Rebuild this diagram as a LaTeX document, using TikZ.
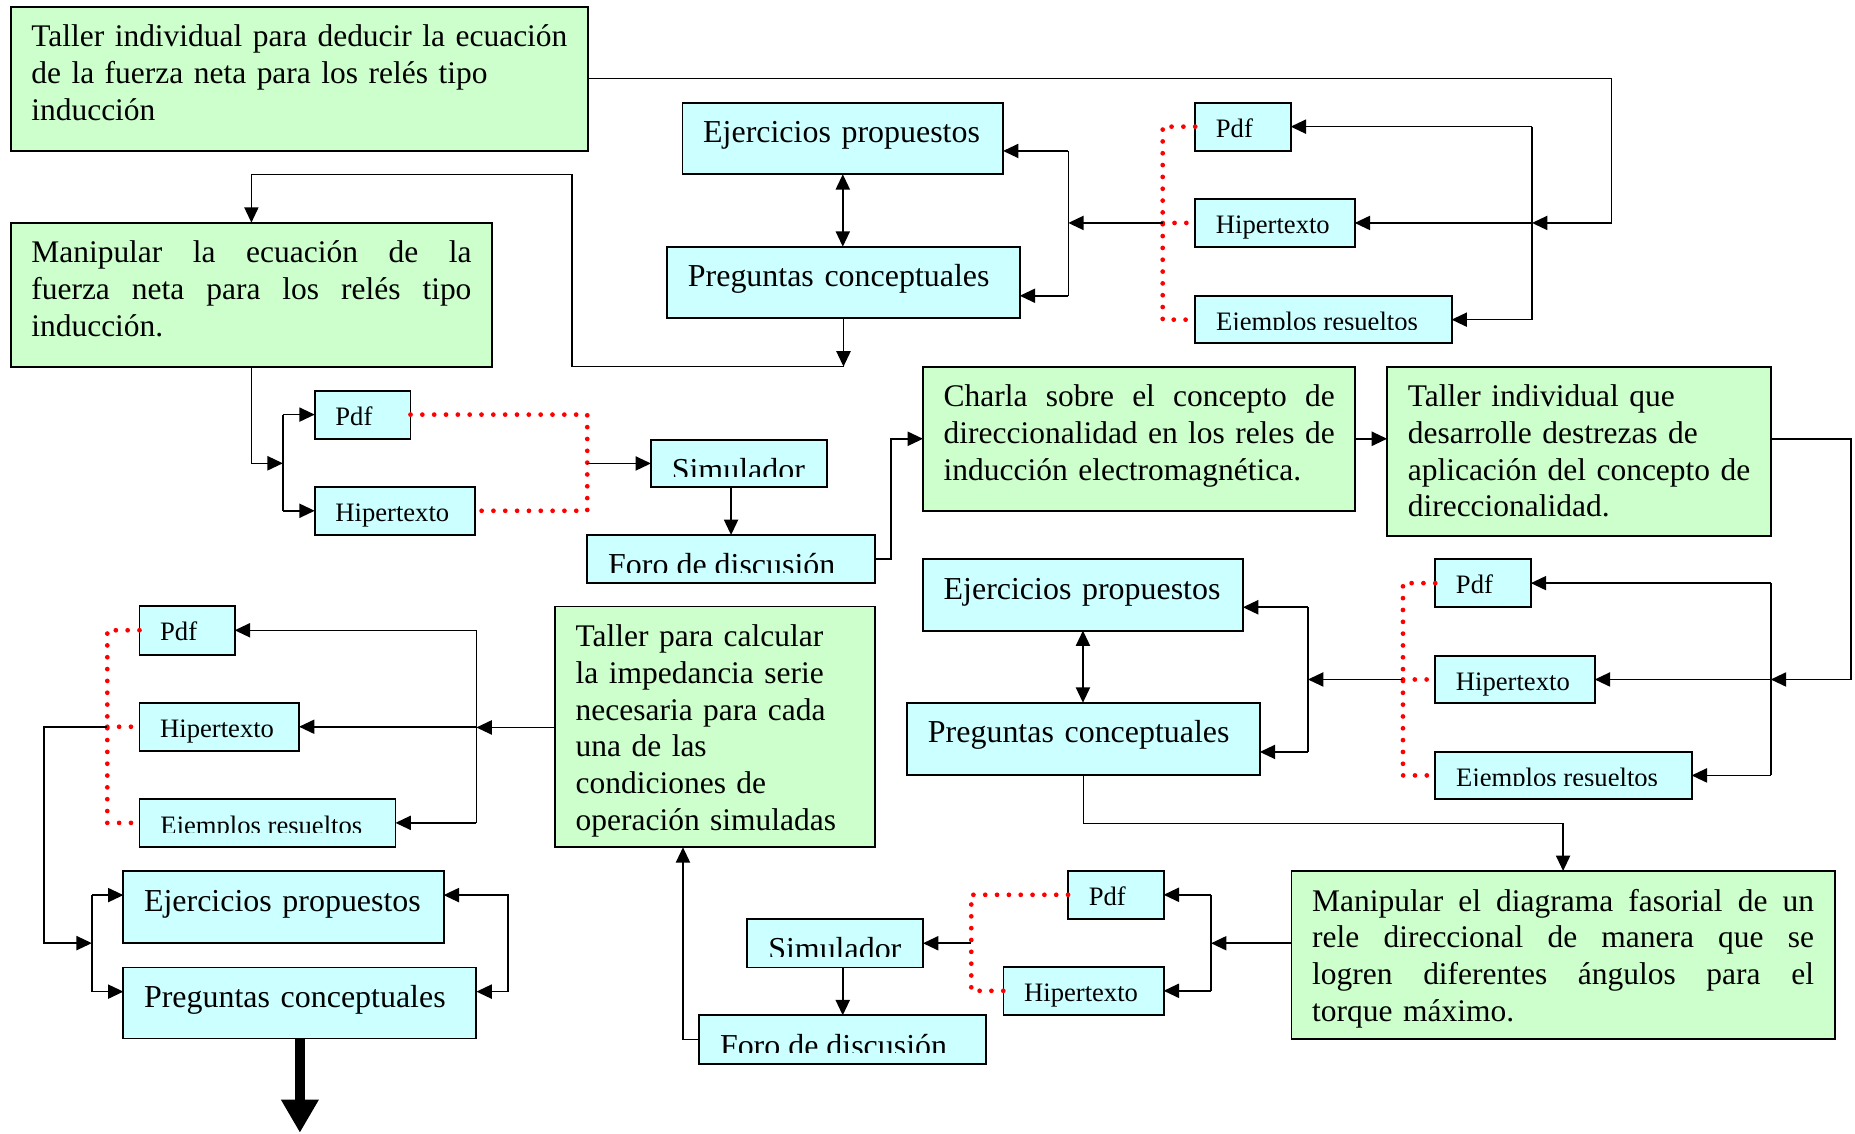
\documentclass[tikz,border=0pt]{standalone}
\usepackage{fontspec}
\setmainfont{Liberation Serif}
\usetikzlibrary{arrows.meta,calc}
\definecolor{gfill}{HTML}{CCFFCC}
\definecolor{cfill}{HTML}{CCFFFF}
\newcommand\myrl[1]{\mbox{#1}}
\newcommand\myjl[1]{\leavevmode\hbox to \hsize{\spaceskip=0.25em plus 1fill\relax #1}}
\newcommand\bigf{\fontsize{27}{31}\selectfont}
\newcommand\greenf{\fontsize{26.6}{31}\selectfont}
\newcommand\smallf{\fontsize{22.5}{26}\selectfont}
% clipped text inside a box: box, name, text, baseline, clip depth, font
\newcommand\cuttext[6]{%
  \begin{scope}
    \clip (#1.north west) rectangle ($(#1.north east)+(0,#5)$);
    \node[anchor=base west, inner sep=0pt, font=#6] (#2) at ($(#1.north west)+(17.5,#4)$) {#3};
  \end{scope}}
\tikzset{
  box/.style={draw, line width=1.6pt, outer sep=0pt, inner ysep=0pt, inner xsep=17.5pt, anchor=north west, align=left},
  gbox/.style={box, fill=gfill, font=\greenf, text height=34pt},
  cbig/.style={box, fill=cfill, font=\bigf, text height=34pt},
  csmall/.style={box, fill=cfill, font=\smallf, text height=29.5pt},
  cutbox/.style={draw, line width=1.6pt, outer sep=0pt, inner sep=0pt, anchor=north west, fill=cfill},
  conn/.style={line width=1.3pt, black},
  arr/.style={conn, -{Triangle[length=13pt,width=12pt]}},
  dbl/.style={conn, {Triangle[length=13pt,width=12pt]}-{Triangle[length=13pt,width=12pt]}},
  dots/.style={red, line width=4pt, line cap=round, dash pattern=on 0pt off 10pt},
  bigarr/.style={line width=8pt, -{Triangle[length=28pt,width=30pt]}}
}
\begin{document}
\begin{tikzpicture}[x=1pt,y=-1pt]
\useasboundingbox (0,0) rectangle (1568,958);
\hyphenpenalty=10000

% ---------- top region ----------
\node[gbox, text width=453pt, text depth=87.8pt] (A) at (9,5.6)
  {\myrl{Taller individual para deducir la ecuación}\\\myrl{de la fuerza neta para los relés tipo}\\\myrl{inducción}};
\node[gbox, text width=372pt, text depth=87.7pt] (B) at (9,188.2)
  {\myjl{Manipular la ecuación de la}\\\myjl{fuerza neta para los relés tipo}\\\myrl{inducción.}};
\node[cbig, text width=236pt, text depth=26.5pt] (C) at (576.9,86.8) {Ejercicios propuestos};
\node[cbig, text width=263pt, text depth=26.5pt] (D) at (564,208.5) {Preguntas conceptuales};
\node[csmall, text width=45.7pt, text depth=11pt] (E) at (1010.3,86.8) {Pdf};
\node[csmall, text width=99.8pt, text depth=11pt] (F) at (1010.3,168.2) {Hipertexto};
\node[cutbox, minimum width=216.7pt, minimum height=40pt] (G) at (1010.3,250.2) {};
\cuttext{G}{Gt}{Ejemplos resueltos}{29.5}{28.3}{\smallf}

\node[csmall, text width=46pt, text depth=11pt] (H) at (266,330.2) {Pdf};
\node[csmall, text width=100.8pt, text depth=11.4pt] (I) at (266,411.3) {Hipertexto};
\node[cutbox, minimum width=148.6pt, minimum height=39.5pt] (J) at (550.2,372) {};
\cuttext{J}{Jt}{Simulador}{34}{31}{\bigf}
\node[cutbox, minimum width=243.1pt, minimum height=40.8pt] (K) at (496.4,452.2) {};
\cuttext{K}{Kt}{Foro de discusión}{34.5}{32}{\bigf}

\node[gbox, text width=330.5pt, text depth=88pt] (L) at (780.2,309.9)
  {\myjl{Charla sobre el concepto de}\\\myjl{direccionalidad en los reles de}\\\myrl{inducción electromagnética.}};
\node[gbox, text width=289.3pt, text depth=108.9pt] (M) at (1172.5,309.9)
  {\myrl{Taller individual que}\\\myrl{desarrolle destrezas de}\\\myrl{aplicación del concepto de}\\\myrl{direccionalidad.}};

\node[cbig, text width=235.4pt, text depth=26.5pt] (N) at (780.2,472.5) {Ejercicios propuestos};
\node[cbig, text width=263pt, text depth=27pt] (O) at (766.9,594) {Preguntas conceptuales};
\node[csmall, text width=45.8pt, text depth=11.3pt] (P) at (1213.2,472.5) {Pdf};
\node[csmall, text width=99.8pt, text depth=10.8pt] (Q) at (1213.2,554.2) {Hipertexto};
\node[cutbox, minimum width=216.7pt, minimum height=40.3pt] (R) at (1213.2,635.3) {};
\cuttext{R}{Rt}{Ejemplos resueltos}{29.5}{28.3}{\smallf}

\node[gbox, text width=424.1pt, text depth=108.3pt] (S) at (1091.7,736.2)
  {\myjl{Manipular el diagrama fasorial de un}\\\myjl{rele direccional de manera que se}\\\myjl{logren diferentes ángulos para el}\\\myrl{torque máximo.}};
\node[csmall, text width=45.8pt, text depth=10.8pt] (T) at (902.8,736.2) {Pdf};
\node[csmall, text width=100.4pt, text depth=11.3pt] (U) at (848.2,817.1) {Hipertexto};
\node[cutbox, minimum width=148.5pt, minimum height=41pt] (V) at (631.7,776.8) {};
\cuttext{V}{Vt}{Simulador}{34}{32}{\bigf}
\node[cutbox, minimum width=242.9pt, minimum height=40.9pt] (W) at (590.9,858.2) {};
\cuttext{W}{Wt}{Foro de discusión}{34.5}{31.5}{\bigf}

\node[gbox, text width=235.3pt, text depth=169.5pt] (X) at (469.1,512.7)
  {\myrl{Taller para calcular}\\\myrl{la impedancia serie}\\\myrl{necesaria para cada}\\\myrl{una de las}\\\myrl{condiciones de}\\\myrl{operación simuladas}};
\node[csmall, text width=45.5pt, text depth=11.8pt] (Y) at (117.9,512.1) {Pdf};
\node[csmall, text width=99.9pt, text depth=10.9pt] (Z) at (117.9,594.1) {Hipertexto};
\node[cutbox, minimum width=216.4pt, minimum height=40.1pt] (AA) at (117.9,675.5) {};
\cuttext{AA}{AAt}{Ejemplos resueltos}{29.5}{28.5}{\smallf}
\node[cbig, text width=235.7pt, text depth=26.8pt] (BB) at (104.3,736.4) {Ejercicios propuestos};
\node[cbig, text width=263.4pt, text depth=26pt] (CC) at (104.3,817.8) {Preguntas conceptuales};

% ---------- helper coordinates ----------
\coordinate (xR1) at (1362,0);
\coordinate (busA) at (1295,0);
\coordinate (dA) at (982.8,0);
\coordinate (busB) at (903,0);
\coordinate (Cin) at ($(C.north east)+(0,40.8)$);
\coordinate (Din) at ($(D.north east)+(0,41.5)$);
\coordinate (j1) at (713,309.9);
\coordinate (t1) at (483.4,147.6);
\coordinate (busH) at (239.1,391.6);
\coordinate (dB) at (496.4,0);
\coordinate (xR2) at (1564.8,0);
\coordinate (busC) at (1496.8,0);
\coordinate (dC) at (1185.9,0);
\coordinate (busD) at (1105.6,0);
\coordinate (Nin) at ($(N.north east)+(0,40.8)$);
\coordinate (Oin) at ($(O.north east)+(0,41.6)$);
\coordinate (Sout) at ($(S.north west)+(0,61.1)$);
\coordinate (busE) at (1023.7,0);
\coordinate (dE) at (821,0);
\coordinate (Xin) at ($(X.south west)+(108.2,0)$);
\coordinate (Xout) at ($(X.north west)+(0,102.2)$);
\coordinate (busF) at (402.7,0);
\coordinate (dF) at (90.7,0);
\coordinate (xL) at (37.4,0);
\coordinate (gl) at (77.6,797.2);
\coordinate (busG) at (77.6,0);
\coordinate (BBin) at ($(BB.north west)+(0,20.2)$);
\coordinate (CCin) at ($(CC.north west)+(0,20.4)$);
\coordinate (BBr) at ($(BB.north east)+(0,20.2)$);
\coordinate (CCr) at ($(CC.north east)+(0,20.4)$);
\coordinate (rb) at (429.4,0);
\coordinate (tip) at (253.5,957.5);

% ---------- connectors: top right group ----------
\draw[arr] (A.east) -| (xR1 |- F.east) -- (busA |- F.east);
\draw[conn] (busA |- E.east) -- (busA |- G.east);
\draw[arr] (busA |- E.east) -- (E.east);
\draw[arr] (busA |- F.east) -- (F.east);
\draw[arr] (busA |- G.east) -- (G.east);
\draw[dots] (E.west) -- (dA |- E.west) -- (dA |- G.west) -- (G.west);
\draw[dots] (dA |- F.west) -- (F.west);
\draw[arr] (dA |- F.west) -- (busB |- F.west);
\draw[conn] (busB |- Cin) -- (busB |- Din);
\draw[arr] (busB |- Cin) -- (Cin);
\draw[arr] (busB |- Din) -- (Din);
\draw[dbl] (C.south) -- (C.south |- D.north);
\draw[arr] (D.south) -- (j1);
\draw[arr] (j1) -| (t1) -| (B.north);

% ---------- middle left group ----------
\draw[arr] (B.south) |- (busH);
\draw[conn] (busH |- H.west) -- (busH |- I.west);
\draw[arr] (busH |- H.west) -- (H.west);
\draw[arr] (busH |- I.west) -- (I.west);
\draw[dots] (H.east) -- (dB |- H.east) -- (dB |- I.east) -- (I.east);
\draw[arr] (dB |- J.west) -- (J.west);
\draw[arr] (J.south -| K.north) -- (K.north);
\draw[arr] (K.east) -- ++(13.8,0) |- (L.west);
\draw[arr] (L.east) -- (L.east -| M.west);

% ---------- middle right group ----------
\draw[arr] (M.east |- L.east) -| (xR2 |- Q.east) -- (busC |- Q.east);
\draw[conn] (busC |- P.east) -- (busC |- R.east);
\draw[arr] (busC |- P.east) -- (P.east);
\draw[arr] (busC |- Q.east) -- (Q.east);
\draw[arr] (busC |- R.east) -- (R.east);
\draw[dots] (P.west) -- (dC |- P.west) -- (dC |- R.west) -- (R.west);
\draw[dots] (dC |- Q.west) -- (Q.west);
\draw[arr] (dC |- Q.west) -- (busD |- Q.west);
\draw[conn] (busD |- Nin) -- (busD |- Oin);
\draw[arr] (busD |- Nin) -- (Nin);
\draw[arr] (busD |- Oin) -- (Oin);
\draw[dbl] (N.south) -- (N.south |- O.north);
\draw[arr] (O.south) -- ++(0,40.9) -| (S.north);

% ---------- bottom right group ----------
\draw[arr] (Sout) -- (busE |- Sout);
\draw[conn] (busE |- T.east) -- (busE |- U.east);
\draw[arr] (busE |- T.east) -- (T.east);
\draw[arr] (busE |- U.east) -- (U.east);
\draw[dots] (T.west) -- (dE |- T.west) -- (dE |- U.west) -- (U.west);
\draw[arr] (dE |- V.east) -- (V.east);
\draw[arr] (V.south -| W.north) -- (W.north);
\draw[arr] (W.west) -| (Xin);

% ---------- bottom left group ----------
\draw[arr] (Xout) -- (busF |- Xout);
\draw[conn] (busF |- Y.east) -- (busF |- AA.east);
\draw[arr] (busF |- Y.east) -- (Y.east);
\draw[arr] (busF |- Z.east) -- (Z.east);
\draw[arr] (busF |- AA.east) -- (AA.east);
\draw[dots] (Y.west) -- (dF |- Y.west) -- (dF |- AA.west) -- (AA.west);
\draw[dots] (dF |- Z.west) -- (Z.west);
\draw[arr] (dF |- Z.west) -| (xL |- gl) -- (gl);
\draw[conn] (busG |- BBin) -- (busG |- CCin);
\draw[arr] (busG |- BBin) -- (BBin);
\draw[arr] (busG |- CCin) -- (CCin);
\draw[dbl] (BBr) -| (rb |- CCr) -- (CCr);
\draw[bigarr] (CC.south) -- (tip);
\end{tikzpicture}
\end{document}
